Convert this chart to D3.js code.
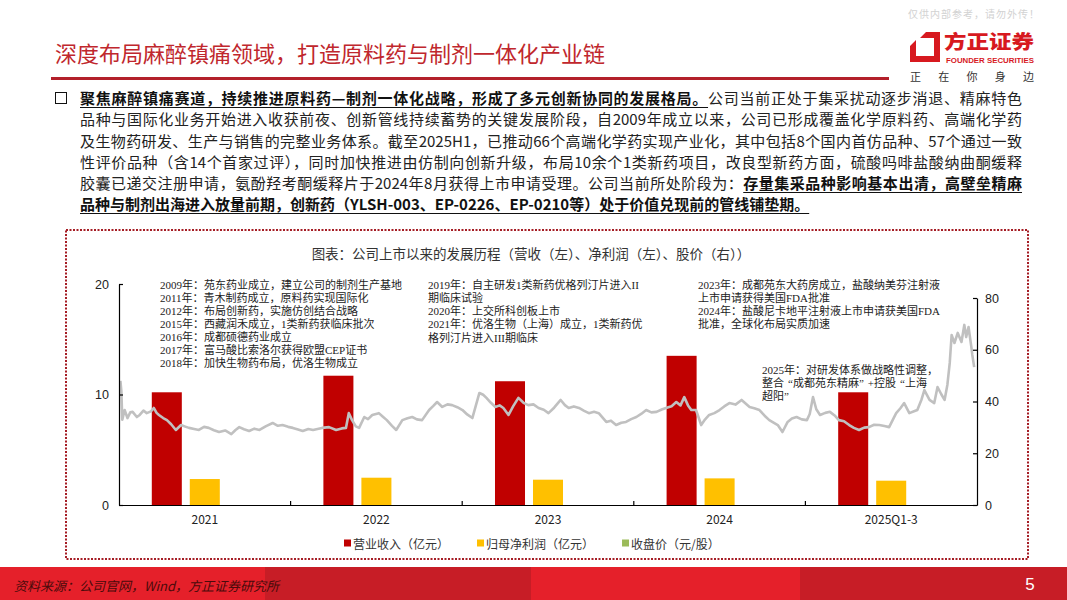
<!DOCTYPE html>
<html>
<head>
<meta charset="utf-8">
<script src="https://cdn.jsdelivr.net/npm/d3@7"></script>
<style>
  body { margin: 0; width: 1067px; height: 600px; position: relative; overflow: hidden; background: #fff;
         font-family: "Noto Sans CJK SC", sans-serif; }
  svg { position: absolute; left: 0; top: 0; }
  #para { position: absolute; left: 80px; top: 87px; width: 942px; font-size: 15px; color: #222; }
  #para .ln { height: 21.3px; line-height: 21.3px; text-align: justify; text-align-last: justify; }
  #para .ln.last { text-align-last: left; }
  #para b { font-weight: bold; color: #111; text-decoration: underline; text-underline-offset: 3px; }
  #chk { position: absolute; left: 55px; top: 92px; width: 10px; height: 10px; border: 1.7px solid #111; }
</style>
</head>
<body>
<svg id="chart" width="1067" height="600"></svg>
<div id="chk"></div>
<div id="para"></div>
<script>
// ---- data ----
const years = ["2021", "2022", "2023", "2024", "2025Q1-3"];
const revenue = [10.2, 11.7, 11.2, 13.5, 10.2];      // 营业收入（亿元）
const netProfit = [2.35, 2.47, 2.29, 2.41, 2.2];     // 归母净利润（亿元）
const seriesNames = ["营业收入（亿元）", "归母净利润（亿元）", "收盘价（元/股）"];
const seriesColors = ["#c00000", "#ffc000", "#9bbb59"];
const leftTicks = [0, 10, 20];
const rightTicks = [0, 20, 40, 60, 80];

const priceDates = [
  "2021-01-04","2021-01-06","2021-01-08","2021-01-13","2021-01-19","2021-01-25","2021-01-30","2021-02-08","2021-02-14","2021-02-22",
  "2021-03-01","2021-03-10","2021-03-16","2021-03-22","2021-03-27","2021-04-05","2021-04-13","2021-04-22","2021-05-02","2021-05-13",
  "2021-05-22","2021-05-30","2021-06-10","2021-06-20","2021-07-01","2021-07-11","2021-07-22","2021-08-02","2021-08-15","2021-08-28",
  "2021-09-06","2021-09-14","2021-09-24","2021-10-05","2021-10-16","2021-10-27","2021-11-10","2021-11-24","2021-12-05","2021-12-15",
  "2021-12-27","2022-01-06","2022-01-17","2022-01-27","2022-02-08","2022-02-18","2022-03-09","2022-03-24","2022-04-08","2022-04-20",
  "2022-04-29","2022-05-05","2022-05-12","2022-05-20","2022-05-27","2022-06-07","2022-06-15","2022-06-24","2022-07-08","2022-07-16",
  "2022-07-25","2022-08-05","2022-08-14","2022-08-27","2022-09-07","2022-09-17","2022-09-27","2022-10-08","2022-10-23","2022-11-01",
  "2022-11-09","2022-11-20","2022-12-01","2022-12-11","2022-12-22","2023-01-02","2023-01-12","2023-01-23","2023-02-07","2023-02-15",
  "2023-02-22","2023-03-03","2023-03-13","2023-03-22","2023-03-30","2023-04-10","2023-04-20","2023-05-01","2023-05-12","2023-05-22",
  "2023-06-02","2023-06-13","2023-06-24","2023-07-04","2023-07-16","2023-07-30","2023-08-08","2023-08-16","2023-08-27","2023-09-07",
  "2023-09-18","2023-09-28","2023-10-09","2023-10-19","2023-11-04","2023-11-14","2023-11-25","2023-12-06","2023-12-16","2023-12-27",
  "2024-01-07","2024-01-18","2024-01-28","2024-02-08","2024-02-19","2024-03-01","2024-03-10","2024-03-22","2024-04-01","2024-04-10",
  "2024-04-18","2024-04-26","2024-05-03","2024-05-13","2024-05-24","2024-06-01","2024-06-10","2024-06-21","2024-07-02","2024-07-12",
  "2024-07-23","2024-08-05","2024-08-18","2024-09-04","2024-09-14","2024-09-25","2024-10-06","2024-10-16","2024-11-03","2024-11-13",
  "2024-11-24","2024-12-03","2024-12-13","2024-12-24","2025-01-04","2025-01-10","2025-01-17","2025-01-24","2025-02-01","2025-02-12",
  "2025-02-22","2025-03-04","2025-03-13","2025-03-24","2025-04-04","2025-04-14","2025-04-25","2025-05-06","2025-05-16","2025-05-27",
  "2025-06-07","2025-06-18","2025-06-28","2025-07-06","2025-07-13","2025-07-22","2025-07-30","2025-08-10","2025-08-20","2025-08-27",
  "2025-09-05","2025-09-11","2025-09-22","2025-10-02","2025-10-09","2025-10-17","2025-10-24","2025-10-30","2025-11-04","2025-11-08",
  "2025-11-14","2025-11-21","2025-11-29","2025-12-05","2025-12-09","2025-12-14","2025-12-20","2025-12-22","2025-12-26"
];
const priceClose = [
  48.0, 44.0, 33.0, 36.7, 33.6, 35.8, 36.0, 34.0, 34.8, 36.5,
  35.5, 36.2, 37.5, 35.6, 34.8, 33.6, 32.8, 31.2, 29.0, 30.9,
  30.3, 29.8, 29.4, 29.0, 30.2, 29.8, 28.9, 28.2, 28.8, 27.4,
  29.0, 30.1, 29.3, 28.6, 29.5, 29.0, 30.5, 31.7, 30.6, 30.9,
  30.2, 29.8, 29.2, 28.6, 29.4, 29.0, 29.8, 30.1, 29.0, 29.6,
  29.8, 35.5, 32.8, 30.4, 29.8, 34.0, 33.2, 34.8, 35.5, 34.2,
  32.8, 30.6, 29.0, 32.8, 33.5, 34.0, 33.1, 32.8, 36.7, 38.3,
  39.8, 37.9, 38.9, 38.6, 37.8, 36.7, 35.0, 33.6, 43.3, 42.6,
  41.4, 39.6, 37.9, 38.5, 37.5, 34.8, 38.2, 41.4, 39.5, 38.6,
  38.9, 37.5, 36.8, 35.5, 37.6, 40.6, 38.6, 37.5, 38.1, 37.5,
  36.4, 35.5, 36.0, 35.5, 32.1, 32.6, 30.9, 31.8, 32.1, 33.2,
  34.0, 35.3, 36.7, 35.8, 36.0, 36.9, 37.5, 38.2, 39.8, 38.5,
  41.7, 38.5, 36.7, 36.7, 30.9, 33.0, 34.8, 35.5, 36.7, 38.1,
  39.4, 38.8, 40.6, 37.9, 37.4, 36.7, 34.5, 32.8, 30.9, 28.2,
  32.1, 33.4, 34.0, 33.1, 32.8, 35.2, 41.7, 37.0, 34.8, 35.6,
  36.0, 34.6, 32.8, 32.4, 30.9, 29.8, 29.0, 29.9, 30.1, 31.0,
  30.9, 30.5, 30.1, 33.0, 35.5, 37.4, 39.4, 35.5, 36.2, 36.7,
  40.8, 44.4, 40.6, 39.4, 45.6, 42.8, 40.6, 46.5, 54.9, 65.7,
  62.6, 66.5, 63.0, 69.6, 64.9, 68.8, 61.0, 58.0, 53.3
];

const notesLeft = [
  "2009年：苑东药业成立，建立公司的制剂生产基地",
  "2011年：青木制药成立，原料药实现国际化",
  "2012年：布局创新药，实施仿创结合战略",
  "2015年：西藏润禾成立，1类新药获临床批次",
  "2016年：成都硕德药业成立",
  "2017年：富马酸比索洛尔获得欧盟CEP证书",
  "2018年：加快生物药布局，优洛生物成立"
];
const notesMid = [
  "2019年：自主研发1类新药优格列汀片进入II",
  "期临床试验",
  "2020年：上交所科创板上市",
  "2021年：优洛生物（上海）成立，1类新药优",
  "格列汀片进入III期临床"
];
const notesRight = [
  "2023年：成都苑东大药房成立，盐酸纳美芬注射液",
  "上市申请获得美国FDA批准",
  "2024年：盐酸尼卡地平注射液上市申请获美国FDA",
  "批准，全球化布局实质加速"
];
const notes2025 = [
  "2025年：对研发体系做战略性调整，",
  "整合“成都苑东精麻”+控股“上海",
  "超阳”"
];

const pageTitle = "深度布局麻醉镇痛领域，打造原料药与制剂一体化产业链";
const chartTitle = "图表：公司上市以来的发展历程（营收（左）、净利润（左）、股价（右））";
const sourceText = "资料来源：公司官网，Wind，方正证券研究所";

const paraLines = [
  ["<b>聚焦麻醉镇痛赛道，持续推进原料药—制剂一体化战略，形成了多元创新协同的发展格局。</b>公司当前正处于集采扰动逐步消退、精麻特色"],
  ["品种与国际化业务开始进入收获前夜、创新管线持续蓄势的关键发展阶段，自2009年成立以来，公司已形成覆盖化学原料药、高端化学药"],
  ["及生物药研发、生产与销售的完整业务体系。截至2025H1，已推动66个高端化学药实现产业化，其中包括8个国内首仿品种、57个通过一致"],
  ["性评价品种（含14个首家过评），同时加快推进由仿制向创新升级，布局10余个1类新药项目，改良型新药方面，硫酸吗啡盐酸纳曲酮缓释"],
  ["胶囊已递交注册申请，氨酚羟考酮缓释片于2024年8月获得上市申请受理。公司当前所处阶段为：<b>存量集采品种影响基本出清，高壁垒精麻</b>"],
  ["<b>品种与制剂出海进入放量前期，创新药（YLSH-003、EP-0226、EP-0210等）处于价值兑现前的管线铺垫期。</b>"]
];

// ---- paragraph ----
d3.select("#para").selectAll("div")
  .data(paraLines)
  .join("div")
  .attr("class", (d, i) => i === paraLines.length - 1 ? "ln last" : "ln")
  .html(d => d[0]);

const svg = d3.select("#chart");
const cjk = "'Noto Sans CJK SC', sans-serif";
const serifCjk = "'Liberation Serif', 'Noto Sans CJK SC', serif";
const latin = "'Liberation Sans', Arial, sans-serif";

// ---- header ----
svg.append("text")
  .attr("x", 55).attr("y", 52).attr("dominant-baseline", "central")
  .style("font-family", cjk).style("font-size", "22px").attr("fill", "#c0272d")
  .text(pageTitle);
svg.append("rect").attr("x", 51).attr("y", 77).attr("width", 838).attr("height", 3).attr("fill", "#b3202a");

svg.append("text")
  .attr("x", 908).attr("y", 13).attr("dominant-baseline", "central")
  .style("font-family", cjk).style("font-size", "10px").style("letter-spacing", "1px")
  .attr("fill", "#d2d2d2")
  .text("仅供内部参考，请勿外传！");

// logo
svg.append("path")
  .attr("d", "M926,32 L940,32 L940,62 L910,62 L910,46 L916,40 L916,56 L934,56 L934,38 L920,38 Z")
  .attr("fill", "#d7191f");
svg.append("text")
  .attr("x", 944).attr("y", 40.5).attr("dominant-baseline", "central")
  .attr("textLength", 90).attr("lengthAdjust", "spacingAndGlyphs")
  .style("font-family", cjk).style("font-size", "19px").style("font-weight", "900")
  .attr("fill", "#d7191f").text("方正证券");
svg.append("text")
  .attr("x", 946).attr("y", 60.5).attr("dominant-baseline", "central")
  .attr("textLength", 88).attr("lengthAdjust", "spacingAndGlyphs")
  .style("font-family", latin).style("font-size", "8px").style("font-weight", "bold")
  .attr("fill", "#d7191f").text("FOUNDER SECURITIES");
svg.append("text")
  .attr("x", 910).attr("y", 76).attr("dominant-baseline", "central")
  .attr("textLength", 124).attr("lengthAdjust", "spacing")
  .style("font-family", cjk).style("font-size", "11px")
  .attr("fill", "#333").text("正在你身边");

// ---- chart box ----
svg.append("rect")
  .attr("x", 66).attr("y", 230).attr("width", 962).attr("height", 329)
  .attr("fill", "none").attr("stroke", "#a51d25").attr("stroke-width", 2)
  .attr("stroke-dasharray", "2 1.5");

svg.append("text")
  .attr("x", 531).attr("y", 253).attr("text-anchor", "middle").attr("dominant-baseline", "central")
  .style("font-family", cjk).style("font-size", "13.5px").attr("fill", "#333")
  .text(chartTitle);

// ---- scales ----
const x0 = d3.scaleBand().domain(years).range([119, 977]);
const x1 = d3.scaleBand().domain(seriesNames).range([0, x0.bandwidth()])
  .paddingInner(0.21).paddingOuter(0.863);
const yL = d3.scaleLinear().domain([0, 20]).range([505, 284]);
const yR = d3.scaleLinear().domain([0, 80]).range([505, 298]);
const parseDate = d3.timeParse("%Y-%m-%d");
const xt = d3.scaleTime().domain([new Date(2021, 0, 1), new Date(2026, 0, 1)]).range([119, 977]);

// ---- bars ----
const barData = [];
years.forEach((y, i) => {
  barData.push({ year: y, key: seriesNames[0], value: revenue[i], color: seriesColors[0] });
  barData.push({ year: y, key: seriesNames[1], value: netProfit[i], color: seriesColors[1] });
});
svg.append("g").selectAll("rect")
  .data(barData)
  .join("rect")
  .attr("x", d => x0(d.year) + x1(d.key))
  .attr("y", d => yL(d.value))
  .attr("width", x1.bandwidth())
  .attr("height", d => yL(0) - yL(d.value))
  .attr("fill", d => d.color);

// ---- price line ----
const price = priceDates.map((d, i) => ({ date: parseDate(d), close: priceClose[i] }));
svg.append("path")
  .datum(price)
  .attr("fill", "none")
  .attr("stroke", "#c0c0c0")
  .attr("stroke-width", 2.6)
  .attr("stroke-linejoin", "round")
  .attr("d", d3.line().x(d => xt(d.date)).y(d => yR(d.close)));

// ---- axes ----
function styleAxis(g) {
  g.select(".domain").attr("stroke", "#000").attr("stroke-width", 1.2);
  g.selectAll(".tick line").attr("stroke", "#000").attr("stroke-width", 1.2);
  g.selectAll("text").style("font-family", latin).style("font-size", "12.5px").attr("fill", "#222");
}
svg.append("g").attr("transform", "translate(119,0)")
  .call(d3.axisLeft(yL).tickValues(leftTicks).tickSizeInner(-4).tickSizeOuter(0).tickPadding(10))
  .call(styleAxis);
svg.append("g").attr("transform", "translate(977,0)")
  .call(d3.axisRight(yR).tickValues(rightTicks).tickSizeInner(-4).tickSizeOuter(0).tickPadding(8))
  .call(styleAxis);
const xAxis = svg.append("g").attr("transform", "translate(0,505)")
  .call(d3.axisBottom(x0).tickSize(0).tickPadding(10))
  .call(styleAxis);
xAxis.selectAll("text").style("font-family", cjk).style("font-size", "12px");
// category boundary ticks (inside)
svg.append("g").selectAll("line")
  .data(years.slice(1))
  .join("line")
  .attr("x1", d => x0(d)).attr("x2", d => x0(d))
  .attr("y1", 505).attr("y2", 501)
  .attr("stroke", "#000").attr("stroke-width", 1.2);

// ---- annotations ----
function noteBlock(lines, x, y0, step) {
  const t = svg.append("g").selectAll("text")
    .data(lines)
    .join("text")
    .attr("x", x).attr("y", (d, i) => y0 + i * step)
    .attr("dominant-baseline", "central")
    .style("font-family", serifCjk).style("font-size", "11px").attr("fill", "#222");
  // chinese quotes get extra room so they read full width
  t.each(function(d) {
    const node = d3.select(this);
    d.split(/([“”])/).filter(s => s.length).forEach(s => {
      const sp = node.append("tspan").text(s);
      if (s === "“") sp.attr("dx", 4);
      if (s === "”") sp.style("letter-spacing", "4px");
    });
  });
}
noteBlock(notesLeft, 160, 284.5, 13.0);
noteBlock(notesMid, 428, 284.5, 13.3);
noteBlock(notesRight, 698, 284.5, 13.3);
noteBlock(notes2025, 762, 370, 13.0);

// ---- legend ----
const legend = svg.append("g").attr("transform", "translate(344,543)");
let lx = 0;
seriesNames.forEach((name, i) => {
  const item = legend.append("g").attr("transform", `translate(${lx},0)`);
  item.append("rect").attr("x", 0).attr("y", -3.5).attr("width", 7).attr("height", 7).attr("fill", seriesColors[i]);
  const t = item.append("text").attr("x", 9).attr("y", 0).attr("dominant-baseline", "central")
    .style("font-family", cjk).style("font-size", "12px").attr("fill", "#333").text(name);
  lx += 9 + t.node().getComputedTextLength() + 28;
});

// ---- footer ----
const footerBands = [[0, 265, "#e5202a"], [265, 531, "#c71d26"], [531, 800, "#e5202a"], [800, 1067, "#c71d26"]];
svg.append("g").selectAll("rect")
  .data(footerBands)
  .join("rect")
  .attr("x", d => d[0]).attr("y", 567).attr("width", d => d[1] - d[0]).attr("height", 33)
  .attr("fill", d => d[2]);
svg.append("text")
  .attr("x", 14).attr("y", 585).attr("dominant-baseline", "central")
  .style("font-family", cjk).style("font-size", "13px").style("font-style", "italic")
  .attr("fill", "#4a0b0b").text(sourceText);
svg.append("text")
  .attr("x", 1030).attr("y", 584).attr("text-anchor", "middle").attr("dominant-baseline", "central")
  .style("font-family", latin).style("font-size", "17px").attr("fill", "#fff").text("5");
</script>
</body>
</html>
